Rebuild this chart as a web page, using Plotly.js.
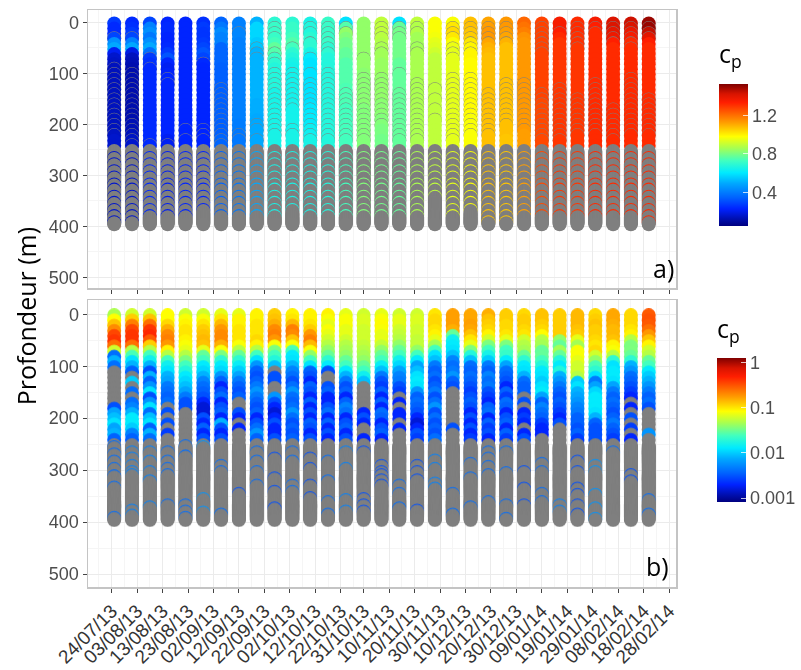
<!DOCTYPE html>
<html><head><meta charset="utf-8">
<script src="https://cdn.plot.ly/plotly-3.0.1.min.js"></script>
<style>html,body{margin:0;padding:0;background:#fff}
#chart{filter:blur(0.4px)}
#chart .scatterlayer{filter:blur(0.7px)}
</style></head>
<body><div id="chart" style="width:801px;height:670px"></div>
<script>
const _ = null;
const sampleDates = ['2013-07-25','2013-08-01','2013-08-08','2013-08-15','2013-08-22','2013-08-29','2013-09-05','2013-09-12','2013-09-19','2013-09-26','2013-10-03','2013-10-10','2013-10-17','2013-10-24','2013-10-31','2013-11-07','2013-11-14','2013-11-21','2013-11-28','2013-12-05','2013-12-12','2013-12-19','2013-12-26','2014-01-02','2014-01-09','2014-01-16','2014-01-23','2014-01-30','2014-02-06','2014-02-13','2014-02-20'];
const tickDates = ['2013-07-24','2013-08-03','2013-08-13','2013-08-23','2013-09-02','2013-09-12','2013-09-22','2013-10-02','2013-10-12','2013-10-22','2013-10-31','2013-11-10','2013-11-20','2013-11-30','2013-12-10','2013-12-20','2013-12-30','2014-01-09','2014-01-19','2014-01-29','2014-02-08','2014-02-18','2014-02-28'];
const tickLabels = ['24/07/13','03/08/13','13/08/13','23/08/13','02/09/13','12/09/13','22/09/13','02/10/13','12/10/13','22/10/13','31/10/13','10/11/13','20/11/13','30/11/13','10/12/13','20/12/13','30/12/13','09/01/14','19/01/14','29/01/14','08/02/14','18/02/14','28/02/14'];
const minorDates = ['2013-07-19','2013-07-29','2013-08-08','2013-08-18','2013-08-28','2013-09-07','2013-09-17','2013-09-27','2013-10-07','2013-10-17','2013-10-27','2013-11-05','2013-11-15','2013-11-25','2013-12-05','2013-12-15','2013-12-25','2014-01-04','2014-01-14','2014-01-24','2014-02-03','2014-02-13','2014-02-23'];
const shallowDepths = [2,12,22,32,42,52,62,72,82,92,102,112,122,132,142,152,162,172,182,192,202,212,222,232,242];
const deepDepths = [252,254,256,258,260,262,264,266,268,270,272,274,276,278,280,282,284,286,288,290,292,294,296,298,300,302,304,306,308,310,312,314,316,318,320,322,324,326,328,330,332,334,336,338,340,342,344,346,348,350,352,354,356,358,360,362,364,366,368,370,372,374,376,378,380,382,384,386,388,390,392,394,396];

// Panel a) cp, one row per sampling date, one value per shallow depth
const cpA = [
[.28,.25,.25,.3,.45,.5,.22,.17,.16,.15,.15,.15,.15,.15,.15,.15,.15,.15,.15,.15,.15,.15,.16,.17,.17],
[.25,.26,.28,.3,.42,.5,.2,.15,.14,.13,.13,.13,.13,.13,.13,.13,.13,.13,.13,.13,.14,.14,.15,.16,.17],
[.3,.42,.45,.4,.45,.5,.38,.28,.26,.25,.25,.25,.25,.25,.25,.25,.25,.25,.25,.25,.25,.25,.25,.25,.25],
[.24,.25,.25,.24,.24,.25,.28,.33,.24,.22,.23,.24,.24,.24,.24,.24,.24,.24,.24,.24,.24,.24,.24,.22,.22],
[.24,.24,.24,.24,.24,.24,.24,.24,.24,.24,.24,.24,.24,.24,.24,.24,.24,.24,.24,.24,.24,.24,.24,.24,.24],
[.26,.28,.27,.27,.28,.3,.33,.3,.25,.24,.24,.24,.24,.24,.24,.24,.24,.24,.24,.24,.24,.24,.24,.24,.24],
[.36,.4,.44,.42,.42,.36,.36,.36,.36,.35,.35,.35,.35,.35,.35,.35,.35,.35,.35,.35,.35,.35,.35,.36,.36],
[.42,.42,.43,.43,.42,.42,.42,.42,.42,.42,.42,.42,.42,.42,.42,.42,.42,.42,.42,.42,.41,.41,.4,.4,.4],
[.52,.58,.58,.58,.56,.55,.52,.52,.52,.52,.52,.52,.52,.52,.52,.52,.51,.51,.51,.5,.5,.5,.5,.5,.5],
[.7,.72,.72,.72,.74,.78,.76,.72,.7,.68,.68,.68,.68,.68,.66,.66,.66,.66,.66,.66,.66,.66,.66,.66,.66],
[.7,.72,.72,.74,.76,.74,.7,.68,.66,.65,.65,.65,.65,.65,.65,.65,.65,.65,.65,.65,.65,.65,.66,.66,.66],
[.66,.68,.68,.7,.7,.7,.66,.62,.6,.6,.6,.6,.6,.6,.6,.6,.6,.61,.61,.62,.62,.64,.64,.66,.66],
[.72,.72,.72,.72,.72,.7,.7,.68,.68,.68,.68,.68,.68,.68,.68,.68,.68,.68,.68,.68,.68,.68,.68,.68,.68],
[.6,.76,.84,.82,.8,.8,.78,.78,.76,.76,.76,.76,.76,.75,.75,.75,.75,.74,.74,.74,.74,.74,.74,.74,.74],
[.84,.84,.84,.84,.84,.84,.84,.84,.84,.84,.83,.83,.83,.83,.83,.83,.83,.82,.82,.82,.82,.82,.82,.82,.82],
[.9,.9,.9,.89,.88,.87,.86,.86,.85,.85,.85,.84,.84,.84,.84,.84,.83,.83,.83,.82,.82,.81,.81,.8,.8],
[.6,.78,.8,.8,.8,.8,.8,.8,.78,.78,.78,.78,.78,.78,.78,.78,.78,.78,.78,.78,.78,.78,.78,.78,.78],
[.9,.88,.88,.86,.86,.86,.87,.87,.87,.87,.87,.87,.87,.87,.87,.87,.87,.87,.87,.87,.87,.87,.87,.87,.87],
[.98,.98,.98,.97,.95,.94,.92,.9,.9,.9,.9,.9,.9,.9,.9,.9,.9,.9,.9,.9,.9,.9,.9,.9,.9],
[.98,1.02,1.04,1.02,.98,.96,.95,.95,.95,.95,.95,.95,.95,.95,.95,.95,.95,.95,.95,.95,.95,.95,.95,.95,.95],
[1.08,1.08,1.07,1.06,1.02,1,1,1,.99,.99,.99,.99,.99,.99,.99,.99,.99,.99,.99,.98,.98,.98,.98,.98,.98],
[1.12,1.13,1.14,1.14,1.12,1.1,1.09,1.08,1.08,1.08,1.08,1.08,1.08,1.08,1.08,1.08,1.08,1.08,1.08,1.08,1.08,1.08,1.08,1.08,1.08],
[1.14,1.14,1.13,1.12,1.1,1.08,1.08,1.08,1.08,1.08,1.08,1.08,1.08,1.08,1.08,1.08,1.08,1.08,1.08,1.08,1.08,1.08,1.08,1.07,1.07],
[1.22,1.2,1.18,1.15,1.14,1.14,1.14,1.14,1.14,1.14,1.14,1.14,1.14,1.14,1.14,1.14,1.14,1.14,1.14,1.14,1.14,1.14,1.13,1.13,1.13],
[1.28,1.28,1.28,1.28,1.28,1.28,1.28,1.28,1.28,1.28,1.28,1.28,1.28,1.28,1.28,1.28,1.27,1.27,1.27,1.27,1.27,1.27,1.27,1.27,1.27],
[1.36,1.36,1.34,1.32,1.3,1.3,1.3,1.3,1.3,1.3,1.3,1.3,1.3,1.3,1.3,1.3,1.3,1.3,1.3,1.3,1.3,1.3,1.3,1.3,1.3],
[1.32,1.32,1.32,1.31,1.31,1.3,1.3,1.3,1.3,1.3,1.3,1.3,1.3,1.3,1.3,1.3,1.3,1.3,1.3,1.3,1.3,1.3,1.3,1.3,1.3],
[1.36,1.34,1.32,1.32,1.32,1.32,1.32,1.32,1.32,1.32,1.32,1.32,1.32,1.32,1.32,1.32,1.32,1.32,1.32,1.32,1.32,1.32,1.32,1.32,1.32],
[1.42,1.42,1.4,1.38,1.34,1.32,1.32,1.32,1.32,1.32,1.32,1.32,1.32,1.32,1.32,1.32,1.32,1.32,1.32,1.32,1.32,1.32,1.32,1.32,1.32],
[1.44,1.42,1.38,1.36,1.32,1.32,1.32,1.32,1.32,1.32,1.32,1.32,1.32,1.32,1.32,1.32,1.32,1.32,1.32,1.32,1.32,1.32,1.32,1.32,1.32],
[1.5,1.5,1.45,1.4,1.34,1.32,1.32,1.32,1.32,1.32,1.32,1.32,1.32,1.32,1.32,1.32,1.32,1.32,1.32,1.32,1.32,1.32,1.32,1.32,1.32]
];
// Panel a) missing readings inside the coloured part, per date
const naA = [
[31,91,101,111,121,131,141,151,161,171,181,191,201,211,221],
[31,101,111,121,131,141,151,161,171,181,191,201,211,221,231,241],
[71,91,241],[111,121,241],[211,231],[81,211,221,231],
[131,141,151,161,171,181,191,201,211,221,231,241],
[21,221,231],[51,61,71,201,211,231],
[11,21,31,61,71,81,101,111,121,131,141,151,161,171,181,191,201,211,221],
[51,101,111,121,131,141,151,161,171,211,221],
[11,21,41,71,101,121,131,141,151,161,171,181,191,201,211,221,231],
[11,21,31,41,51,61,101,111,121,131,141,151,161,171,181,191,201,211,221,231],
[11,21,141,151,161,171,181,191,201,211,221,231],
[71,111,121,131,141,151,161,171,181,191,201,211,221,231],
[11,21,31,51,61,111,121,131,141,151,161,171,181,191,201],
[11,21,31,101,141,151,161,171,181,191,201,211,221,231],
[11,21,51,61,121,131,141,151,161,171,181,191,201,211,221,231],
[131,151,171,191],
[11,21,31,51,61,71,111,121,131,141,151,161,171,181,191,201,211,221,231],
[11,21,31,41,51,61,111,121,131,141,151,161,171,181,191,201,211,221],
[11,21,31,41,141,151,161,171,181,191,201,211,221],
[11,21,31,41,121,131,141,151,161,171,181,191,201],
[121,131,141,151,161,171,181,191,201,211],
[11,21,31,41,51,61,141,151,161,171,181,191,201,211,221,231],
[21,131,141,151,161,171,181,191,201,211,221,231],
[11,21,31,41,51,151,161,171,181,191,201,211,221],
[11,21,121,131,141,151,161,171,181,191,201,211,221],
[11,21,31,41,171,181,191,201,211,221,231],
[11,21,31,41,51,111,121,131,141,151,161,171,181,191,201,211,221],
[11,21,31,151,161,171,181,191,201,211,221]
];
// Panel a) last depth with readings below the gray front, per date, and the depths themselves
const deepA = [266,278,292,304,318,328,342,354,368,380,392];
const deepCutA = [392,392,380,380,380,368,380,380,380,380,368,380,380,380,380,380,380,380,342,380,368,392,392,380,380,380,380,380,380,380,392];

// Panel b) cp, one row per sampling date, null = missing
const cpB = [
[.047,.083,.13,.2,.35,.4,.25,.06,.004,.008,.004,_,_,_,_,_,_,_,.003,.007,.009,.012,.007,.008,.0035],
[.06,.12,.22,.35,.4,.4,.25,.05,.025,.012,.008,.0035,_,.01,_,.004,_,.004,.005,.008,.013,.013,.01,.005,.0035],
[.06,.13,.25,.4,.45,.3,.12,.05,.024,.015,.008,.003,.008,.0035,.006,.012,.003,.006,.012,.004,.009,.012,.0035,.008,.004],
[.083,.083,.11,.15,.2,.22,.18,.09,.05,.024,.015,.012,.008,.007,.0045,.004,.0035,.004,_,.003,_,.003,_,.0025,_],
[.06,.08,.09,.1,.1,.09,.08,.07,.05,.035,.024,.018,.013,.011,.009,.007,.0045,.003,.003,_,_,_,_,_,_],
[.06,.08,.1,.12,.13,.14,.13,.07,.03,.024,.013,.011,.008,.005,.004,.0035,.003,.002,.0015,.0015,.003,.002,.0035,.002,.003],
[.07,.1,.14,.18,.2,.2,.15,.08,.035,.02,.013,.011,.006,.0035,.002,.003,.004,.002,.003,.0035,.002,.008,.003,.002,.003],
[.07,.09,.09,.1,.1,.1,.08,.05,.03,.02,.014,.01,.007,.0045,.0035,.003,.0035,_,_,.003,.002,_,.002,_,_],
[.09,.09,.1,.1,.1,.11,.09,.05,.024,.012,.006,.0035,.003,.0035,.0045,.006,.0045,.0035,.003,.0035,.002,.003,.004,.006,.0035],
[.12,.13,.15,.2,.22,.18,.08,.035,.024,.018,.009,_,.003,.003,_,_,.006,.003,.002,.0015,.002,.003,.002,.002,.003],
[.09,.1,.14,.22,.2,.13,.08,.025,.013,.012,.008,.005,.004,.003,.004,.006,.004,.0035,.004,.006,.004,.003,.0035,.003,.0035],
[.09,.09,.1,.12,.18,.22,.14,.08,.04,.024,.012,.0035,.003,.002,.0035,.003,.002,.0035,.002,.003,.002,.0035,.003,.002,.003],
[.09,.08,.07,.08,.07,.06,.05,.04,.03,.02,.013,.003,_,_,.003,.0035,.002,.002,.003,.004,.002,.0035,.002,.003,.002],
[.07,.08,.08,.07,.07,.06,.05,.045,.04,.03,.024,.013,.008,.0045,.003,.0035,.002,.0035,.005,.004,.002,.003,.0035,.002,.003],
[.06,.065,.065,.06,.06,.06,.055,.05,.045,.04,.03,.024,.015,.009,_,_,_,_,_,.002,.003,.002,_,_,.002],
[.07,.08,.085,.08,.07,.07,.055,.04,.03,.024,.014,.009,.0045,.003,.0025,.0035,.002,.0035,.002,.004,.0035,.002,.003,.0035,.002],
[.06,.07,.07,.06,.055,.05,.04,.03,.024,.015,.011,.007,.005,.0045,.003,.0025,_,.002,_,.002,.002,_,.002,_,_],
[.06,.065,.065,.06,.06,.055,.055,.04,.024,.013,.007,.009,.012,.013,.012,.006,.0035,.004,.0035,.003,.002,.0015,.002,.003,.0025],
[.1,.11,.11,.1,.09,.07,.045,.024,.012,.009,.0045,.0035,.004,.003,.0035,.0045,.003,.004,.006,.003,.004,.003,.0035,.003,.004],
[.17,.17,.17,.15,.03,.015,.013,.012,.009,.005,.004,.0045,.006,.0035,.003,_,_,_,_,_,_,_,.003,_,_],
[.16,.16,.17,.16,.13,.1,.07,.035,.018,.009,.004,.0035,.004,.0035,.003,.0025,.003,.0035,.003,.002,.003,.002,.003,.002,.0025],
[.15,.13,.12,.11,.09,.06,.035,.024,.016,.01,.0045,.0035,.005,.004,.0045,.003,.0025,.002,.0035,.004,.002,.0035,.0025,.003,.002],
[.12,.12,.11,.11,.1,.07,.035,.024,.022,.013,.007,.004,.0035,.003,.002,.0035,.0025,.004,.0035,.002,.003,.0035,.002,.0035,.0025],
[.11,.12,.12,.11,.1,.06,.05,.045,.03,.02,.013,.012,.008,.004,.0035,.0035,_,.003,_,.002,.0025,.002,_,.002,.003],
[.13,.13,.12,.11,.085,.05,.045,.03,.03,.024,.018,.013,.012,.01,.012,.013,.007,.0035,.005,.004,.0035,.0025,.002,.002,_],
[.12,.12,.12,.12,.12,.04,.03,.045,.03,.018,.013,.018,.008,.006,.0045,.0035,.003,.0035,.003,.0025,.002,.003,_,_,_],
[.14,.14,.14,.13,.12,.07,.045,.08,.08,.07,.06,.06,.05,.01,.012,.008,.007,.006,.005,.0045,.0035,.0035,.003,.0035,.0025],
[.11,.12,.13,.12,.12,.11,.1,.11,.06,.04,.025,.02,.012,.0045,.007,.011,.013,.013,.013,.012,.008,.0035,.003,.003,.003],
[.16,.16,.15,.14,.14,.13,.09,.08,.05,.02,.012,.013,.013,.012,.007,.0045,.0035,.004,.0035,.003,.0035,.0045,.0035,.003,.0025],
[.11,.11,.11,.1,.09,.05,.035,.035,.03,.02,.008,.006,.004,.0035,.003,.0025,.002,_,.002,_,.003,_,.0025,_,.002],
[.3,.32,.3,.25,.18,.13,.09,.06,.05,.03,.024,.013,.01,.008,.006,.0045,.0035,.004,.003,_,_,_,_,.006,_]
];
// Panel b) isolated readings below the gray front, per date, with their common value
const deepB = [
[256,270,284,298,312,334,392],[266,278,292,304,310,378,388],[266,284,304,322,372],[266,284,298,310,368],[254,274,368,380,392],[256,356,382],[292,304,386],[346],
[266,284,304,330],[278,316,342,374],[266,284,330,342],[278,298,330,354],[284,322,362,386],[266,298,358,380],[266,356,368,380],[292,304,310,320,330],
[330,346,374],[292,304,320,378],[282,298,326,336],[346,386],[288,316,372],[266,278,294,310,362],[266,306,368,394],[304,336,368],[288,304,346,362],[368,380],[284,304,336,348,368,386],[292,304,348,374,394],[266],[310,322],[358,386]
];
const deepValB = [.004,.005,.005,.004,.004,.006,.004,.003,.004,.003,.004,.003,.004,.005,.003,.003,.004,.003,.005,.004,.004,.004,.004,.003,.004,.005,.003,.006,.004,.003,.004];

const rangeA = [0.06, 1.53];
const rangeB = [-3.09, 0.1];
const naColor = '#7f7f7f';
const jetStops = [[0,'#00007f'],[.05,'#000fb0'],[.12,'#0022ff'],[.2,'#0062ff'],[.3,'#00a8ff'],[.375,'#00eaff'],[.46,'#40ffc0'],[.55,'#a8ff50'],[.63,'#ffff00'],[.73,'#ff9c00'],[.87,'#ff1e00'],[.93,'#d81400'],[1,'#7f0000']];

function grayedScale(g){
  return [[0,naColor],[g,naColor]].concat(jetStops.map(s=>[g+(1-g)*s[0],s[1]]));
}
function buildPanel(rows, range, transform, extras){
  const g = 0.04, span = range[1]-range[0], lo = range[0]-span*g/(1-g), na = lo;
  const x=[], y=[], c=[];
  rows.forEach((row,i)=>{
    const pts = shallowDepths.map((d,k)=>({d:d,v:row[k]}));
    extras.shallowNA(i).forEach(d=>pts.push({d:d,v:null}));
    const hits = extras.deep(i);
    deepDepths.forEach(d=>pts.push({d:d,v:hits.indexOf(d)>=0?extras.deepVal(i,row):null}));
    pts.sort((a,b)=>a.d-b.d);
    pts.forEach(p=>{x.push(sampleDates[i]);y.push(p.d);c.push(p.v===null?na:transform(p.v));});
  });
  return {x,y,c,lo,g};
}
const pA = buildPanel(cpA, rangeA, v=>v, {
  shallowNA:i=>naA[i], deep:i=>deepA.filter(d=>d<=deepCutA[i]), deepVal:(i,row)=>row[24]});
const pB = buildPanel(cpB, rangeB, v=>Math.log10(v), {
  shallowNA:i=>[], deep:i=>deepB[i], deepVal:(i,row)=>deepValB[i]});

function points(p, range, xa, ya){
  return {type:'scatter',mode:'markers',x:p.x,y:p.y,xaxis:xa,yaxis:ya,hoverinfo:'skip',showlegend:false,
    marker:{size:14,line:{width:0},color:p.c,cmin:p.lo,cmax:range[1],colorscale:grayedScale(p.g),showscale:false}};
}
const W=801,H=670,L=88,R=676,T=9.5,B=587,pw=R-L,ph=B-T;
function barY(px){return (B-px)/ph;}
function barX(px){return (px-L)/pw;}
function legendTrace(range, xa, ya, bar){
  return {type:'scatter',mode:'markers',x:[sampleDates[0]],y:[-1000],xaxis:xa,yaxis:ya,hoverinfo:'skip',showlegend:false,
    marker:{size:1,opacity:0,color:[range[0]],cmin:range[0],cmax:range[1],colorscale:jetStops,showscale:true,colorbar:bar}};
}
const labelFont={family:'"Liberation Sans",Arial,sans-serif',size:18,color:'#4d4d4d'};
function bar(x0,top,bottom,vals,texts){
  return {x:barX(x0),xanchor:'left',xpad:0,ypad:0,y:barY(bottom),yanchor:'bottom',len:bottom-top+42,lenmode:'pixels',
    thickness:29,thicknessmode:'pixels',outlinewidth:0,borderwidth:0,tickmode:'array',tickvals:vals,ticktext:texts,tickprefix:'\u00a0',
    ticks:'inside',ticklen:5,tickcolor:'rgba(255,255,255,0.75)',tickwidth:1,tickfont:labelFont,
    title:{text:'c<sub>p</sub>',side:'top',font:{family:'"Open Sans",sans-serif',size:25,color:'#000'}}};
}
const traces=[
  points(pA,rangeA,'x','y'),
  points(pB,rangeB,'x2','y2'),
  legendTrace(rangeA,'x','y',bar(719,83,225,[.4,.8,1.2],['0.4','0.8','1.2'])),
  legendTrace(rangeB,'x2','y2',bar(717,358,502,[-3,-2,-1,0],['0.001','0.01','0.1','1']))
];
const xRange=['2013-07-14 17:00','2014-03-02 17:00'];
function xAxis(anchor,showLabels){
  return {type:'date',range:xRange,anchor:anchor,tickmode:'array',tickvals:tickDates,ticktext:tickLabels,showticklabels:showLabels,
    tickangle:-45,tickfont:{family:'"Liberation Sans",Arial,sans-serif',size:19,color:'#333'},ticks:'outside',ticklen:4,tickcolor:'#444',tickwidth:1,
    showgrid:true,gridcolor:'#ebebeb',gridwidth:1,zeroline:false,showline:true,mirror:true,linecolor:'#c4c4c4',linewidth:1.5,
    minor:{tickmode:'array',tickvals:minorDates,showgrid:true,gridcolor:'#f5f5f5',gridwidth:1,ticks:''}};
}
function yAxis(anchor,range,domain){
  return {anchor:anchor,domain:domain,range:range,tickmode:'array',tickvals:[0,100,200,300,400,500],ticktext:['0','100','200','300','400','500'],
    tickfont:labelFont,ticks:'outside',ticklen:4,tickcolor:'#444',tickwidth:1,showgrid:true,gridcolor:'#ebebeb',gridwidth:1,zeroline:false,
    showline:true,mirror:true,linecolor:'#c4c4c4',linewidth:1.5,
    minor:{tickmode:'array',tickvals:[50,150,250,350,450],showgrid:true,gridcolor:'#f5f5f5',gridwidth:1,ticks:''}};
}
const layout={
  width:W,height:H,autosize:false,paper_bgcolor:'#fff',plot_bgcolor:'#fff',showlegend:false,
  margin:{l:L,r:W-R,t:T,b:H-B,pad:0,autoexpand:false},
  xaxis:xAxis('y',false),
  yaxis:yAxis('x',[521.6,-24.5],[barY(288),1]),
  xaxis2:xAxis('y2',true),
  yaxis2:yAxis('x2',[525,-27],[0,barY(300)]),
  annotations:[
    {xref:'paper',yref:'paper',x:barX(663),y:barY(268),text:'a)',showarrow:false,xanchor:'center',yanchor:'middle',font:{family:'"Open Sans",sans-serif',size:25,color:'#000'}},
    {xref:'paper',yref:'paper',x:barX(657),y:barY(566),text:'b)',showarrow:false,xanchor:'center',yanchor:'middle',font:{family:'"Open Sans",sans-serif',size:25,color:'#000'}},
    {xref:'paper',yref:'paper',x:barX(26),y:barY(316),text:'Profondeur (m)',textangle:-90,showarrow:false,xanchor:'center',yanchor:'middle',font:{family:'"Open Sans",sans-serif',size:25,color:'#000'}}
  ]
};
Plotly.newPlot('chart',traces,layout,{displayModeBar:false,staticPlot:true});
</script></body></html>
